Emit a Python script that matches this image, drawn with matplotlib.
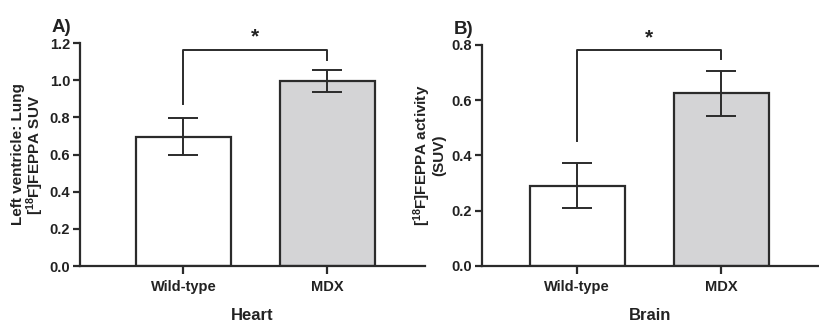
import matplotlib
matplotlib.use("Agg")
import matplotlib.pyplot as plt

plt.rcParams['font.family'] = ['Liberation Sans', 'DejaVu Sans']
plt.rcParams['font.weight'] = 'bold'
plt.rcParams['mathtext.fontset'] = 'custom'
plt.rcParams['mathtext.bf'] = 'Liberation Sans:bold'
plt.rcParams['mathtext.rm'] = 'Liberation Sans:bold'
plt.rcParams['mathtext.default'] = 'bf'

# =========================
# DATA
# =========================
groups = ['Wild-type', 'MDX']

heart_mean = [0.695, 0.995]
heart_err = [0.10, 0.06]

brain_mean = [0.29, 0.625]
brain_err = [0.082, 0.082]

# significance bracket: (top, left leg bottom, right leg bottom)
heart_bracket = (1.165, 0.87, 1.11)
brain_bracket = (0.782, 0.452, 0.748)

bar_colors = ['white', '#d4d4d6']
edge = '#2b2b2b'
txt = '#222222'

fig = plt.figure(figsize=(8.19, 3.26), dpi=100)
axA = fig.add_axes([0.0977, 0.184, 0.421, 0.684])
axB = fig.add_axes([0.5885, 0.185, 0.4115, 0.677])


def draw_panel(ax, means, errs, bracket, ylim, yticks, ylabel, xlabel, tag, xlim, label_x):
    x = range(len(groups))
    ax.bar(x, means, width=0.66, color=bar_colors, edgecolor=edge, linewidth=1.6, zorder=2)
    ax.errorbar(x, means, yerr=errs, fmt='none', ecolor=edge, elinewidth=1.4,
                capsize=11, capthick=1.4, zorder=3)
    top, l_low, r_low = bracket
    ax.plot([0, 0, 1, 1], [l_low, top, top, r_low], color=edge, linewidth=1.4,
            clip_on=False, zorder=3)
    ax.text(0.5, top + (ylim[1] - ylim[0]) * 0.012, '*', ha='center', va='bottom',
            fontsize=15, fontweight='bold', color=txt)

    ax.set_ylim(*ylim)
    ax.set_xlim(*xlim)
    ax.set_yticks(yticks)
    ax.set_yticklabels([f'{t:.1f}' for t in yticks])
    ax.set_xticks(list(x))
    ax.set_xticklabels(groups)
    for s in ['top', 'right']:
        ax.spines[s].set_visible(False)
    for s in ['left', 'bottom']:
        ax.spines[s].set_linewidth(1.6)
        ax.spines[s].set_color(edge)
    ax.tick_params(axis='both', width=1.6, length=5, color=edge, labelsize=10.5,
                   labelcolor=txt, pad=2)
    ax.tick_params(axis='x', length=6, pad=4)
    ax.set_ylabel(ylabel, fontsize=11, fontweight='bold', color=txt, linespacing=0.95)
    ax.yaxis.set_label_coords(label_x, 0.5)
    ax.set_xlabel(xlabel, fontsize=12, fontweight='bold', color=txt)
    ax.xaxis.set_label_coords(0.5, -0.19)
    ax.text(-0.025, 1.03, tag, transform=ax.transAxes, ha='right', va='bottom',
            fontsize=13.5, fontweight='bold', color=txt)


draw_panel(axA, heart_mean, heart_err, heart_bracket, (0, 1.2),
           [0.0, 0.2, 0.4, 0.6, 0.8, 1.0, 1.2],
           'Left ventricle: Lung\n[$^{18}$F]FEPPA SUV', 'Heart', 'A)',
           (-0.72, 1.68), -0.1)
draw_panel(axB, brain_mean, brain_err, brain_bracket, (0, 0.8),
           [0.0, 0.2, 0.4, 0.6, 0.8],
           '[$^{18}$F]FEPPA activity\n(SUV)', 'Brain', 'B)',
           (-0.66, 1.68), -0.105)

fig.savefig('out.png', dpi=100)
